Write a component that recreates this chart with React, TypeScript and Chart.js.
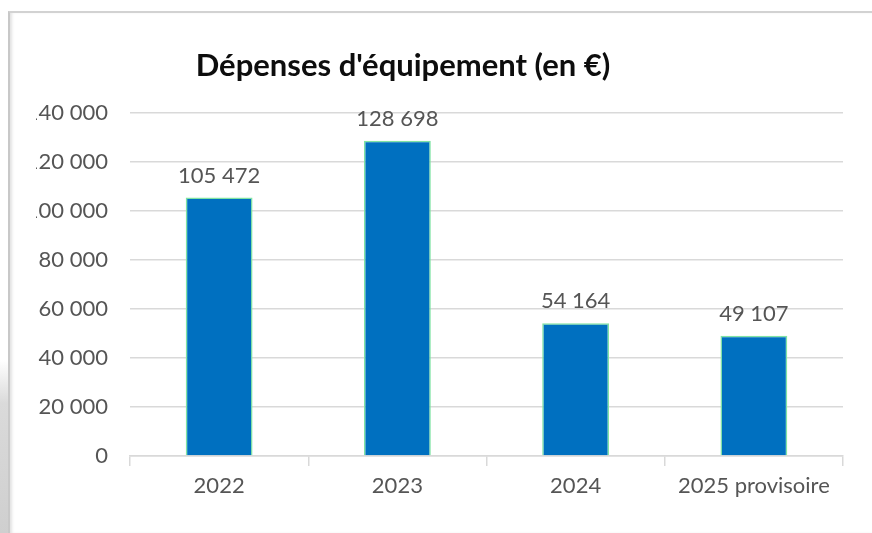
import React, { useEffect, useRef } from 'react';
import { Chart, registerables } from 'chart.js';

Chart.register(...registerables);

const categories: string[] = ['2022', '2023', '2024', '2025 provisoire'];
const values: number[] = [105472, 128698, 54164, 49107];
const yMin = 0;
const yMax = 140000;
const yStep = 20000;
const titleText = "Dépenses d'équipement (en €)";

const FONT = 'Lato, "Open Sans", sans-serif';
const GREY = '#555555';
const GRID = '#d9d9d9';

function fmt(n: number): string {
  return String(Math.round(n)).replace(/\B(?=(\d{3})+(?!\d))/g, ' ');
}

const titlePlugin = {
  id: 'customTitle',
  afterDraw(chart: any) {
    const ctx = chart.ctx;
    ctx.save();
    ctx.font = `bold 31px ${FONT}`;
    ctx.fillStyle = '#0d0d0d';
    ctx.textAlign = 'center';
    ctx.textBaseline = 'alphabetic';
    ctx.fillText(titleText, 367, 62);
    ctx.restore();
  },
};

const valueLabels = {
  id: 'valueLabels',
  afterDatasetsDraw(chart: any) {
    const ctx = chart.ctx;
    const meta = chart.getDatasetMeta(0);
    ctx.save();
    ctx.font = `22px ${FONT}`;
    ctx.fillStyle = GREY;
    ctx.textAlign = 'center';
    ctx.textBaseline = 'alphabetic';
    meta.data.forEach((el: any, i: number) => {
      ctx.fillText(fmt(values[i]), el.x, el.y - 15);
    });
    ctx.restore();
  },
};

export default function App() {
  const ref = useRef<HTMLCanvasElement | null>(null);

  useEffect(() => {
    let chart: Chart | null = null;
    let cancelled = false;
    const make = () => {
      if (cancelled || !ref.current) return;
      chart = new Chart(ref.current, {
        type: 'bar',
        data: {
          labels: categories,
          datasets: [
            {
              data: values,
              backgroundColor: '#0070C0',
              borderColor: '#7fe3a3',
              borderWidth: 1.5,
              categoryPercentage: 1,
              barPercentage: 0.375,
            },
          ],
        },
        options: {
          animation: false,
          responsive: false,
          devicePixelRatio: 1,
          layout: { padding: { top: 99, right: 29, bottom: 0, left: 0 } },
          plugins: {
            legend: { display: false },
            title: { display: false },
            tooltip: { enabled: false },
          },
          scales: {
            x: {
              offset: true,
              afterFit(scale: any) {
                scale.height = 77;
              },
              grid: {
                display: true,
                drawOnChartArea: false,
                drawTicks: true,
                tickLength: 10,
                color: GRID,
                lineWidth: 1.5,
              },
              border: { display: true, color: GRID, width: 1.5 },
              ticks: {
                font: { family: FONT, size: 22 },
                color: GREY,
                padding: 7,
                maxRotation: 0,
                autoSkip: false,
              },
            },
            y: {
              min: yMin,
              max: yMax,
              afterFit(scale: any) {
                scale.width = 94;
              },
              grid: {
                color: GRID,
                lineWidth: 1.5,
                drawTicks: false,
              },
              border: { display: false },
              ticks: {
                stepSize: yStep,
                font: { family: FONT, size: 22 },
                color: GREY,
                padding: 22,
                callback: (v: any) => fmt(Number(v)),
              },
            },
          },
        },
        plugins: [titlePlugin, valueLabels],
      });
    };
    const fonts: any = (document as any).fonts;
    if (fonts && fonts.load) {
      Promise.all([fonts.load(`22px Lato`), fonts.load(`bold 31px Lato`)])
        .catch(() => null)
        .then(make);
    } else {
      make();
    }
    return () => {
      cancelled = true;
      if (chart) chart.destroy();
    };
  }, []);

  return (
    <div
      style={{
        position: 'absolute',
        left: 0,
        top: 0,
        width: 872,
        height: 533,
        background: '#ffffff',
        overflow: 'hidden',
      }}
    >
      <div
        style={{
          position: 'absolute',
          left: 0,
          top: 360,
          width: 9,
          height: 173,
          background: 'linear-gradient(to bottom, #ffffff, #dadada 25%, #cfcfcf)',
        }}
      />
      <div
        style={{
          position: 'absolute',
          left: 8,
          top: 11,
          width: 864,
          height: 522,
          boxSizing: 'border-box',
          borderTop: '2px solid #d2d2d2',
          borderLeft: '2px solid #c8c8c8',
          boxShadow: 'inset 3px 0 3px -1px #e2e2e2',
        }}
      />
      <canvas
        ref={ref}
        width={836}
        height={519}
        style={{ position: 'absolute', left: 36, top: 14, width: 836, height: 519 }}
      />
    </div>
  );
}
